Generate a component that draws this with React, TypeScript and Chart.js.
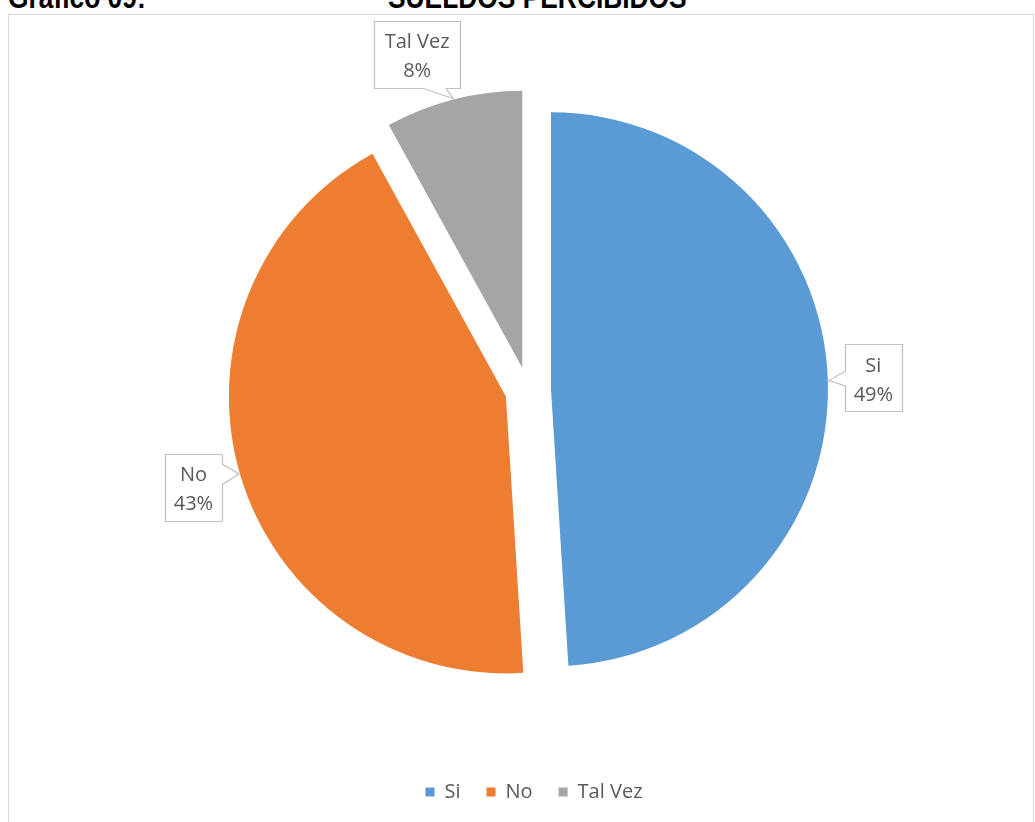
import React, { useEffect, useRef } from 'react';
import { Chart, registerables } from 'chart.js';

Chart.register(...registerables);

const categories = ['Si', 'No', 'Tal Vez'];
const values = [49, 43, 8];
const sliceColors = ['#5B9BD5', '#ED7D31', '#A5A5A5'];

const titleLeft = 'Gráfico 09:';
const titleCenter = 'SUELDOS PERCIBIDOS';

// Callout box layout per slice (offset of box centre from the arc tip, size, pointer base)
const calloutLayout = [
  { dx: 44.5, dy: -2.6, w: 57, h: 67, side: 'left', b1: -7, b2: 8 },
  { dx: -45.5, dy: 13.4, w: 57, h: 67, side: 'right', b1: -23, b2: -3 },
  { dx: -36, dy: -44, w: 86, h: 67, side: 'bottom', b1: 6, b2: 29 },
];

const EXPLODE = 23;
const TEXT = '#595959';
const FONT = '"Open Sans", "Liberation Sans", sans-serif';

const explodePlugin = {
  id: 'explode',
  afterDatasetsUpdate(chart: any) {
    const ca = chart.chartArea;
    const cx = (ca.left + ca.right) / 2;
    const cy = (ca.top + ca.bottom) / 2;
    const meta = chart.getDatasetMeta(0);
    meta.data.forEach((el: any) => {
      const mid = (el.startAngle + el.endAngle) / 2;
      el.x = cx + Math.cos(mid) * EXPLODE;
      el.y = cy + Math.sin(mid) * EXPLODE;
    });
  },
};

const legendShiftPlugin = {
  id: 'legendShift',
  afterLayout(chart: any) {
    if (chart.legend) {
      chart.legend.left += 6;
      chart.legend.right += 6;
    }
  },
};

function drawCallout(ctx: CanvasRenderingContext2D, cx: number, cy: number, w: number, h: number,
  side: string, b1: number, b2: number, tx: number, ty: number) {
  const x0 = Math.round(cx - w / 2) + 0.5;
  const y0 = Math.round(cy - h / 2) + 0.5;
  const x1 = x0 + w;
  const y1 = y0 + h;
  ctx.beginPath();
  ctx.moveTo(x0, y0);
  ctx.lineTo(x1, y0);
  if (side === 'right') {
    ctx.lineTo(x1, cy + b1);
    ctx.lineTo(tx, ty);
    ctx.lineTo(x1, cy + b2);
  }
  ctx.lineTo(x1, y1);
  if (side === 'bottom') {
    ctx.lineTo(cx + b2, y1);
    ctx.lineTo(tx, ty);
    ctx.lineTo(cx + b1, y1);
  }
  ctx.lineTo(x0, y1);
  if (side === 'left') {
    ctx.lineTo(x0, cy + b2);
    ctx.lineTo(tx, ty);
    ctx.lineTo(x0, cy + b1);
  }
  ctx.closePath();
  ctx.fillStyle = '#ffffff';
  ctx.fill();
  ctx.strokeStyle = '#BFBFBF';
  ctx.lineWidth = 1.2;
  ctx.stroke();
}

const calloutPlugin = {
  id: 'callouts',
  afterDatasetsDraw(chart: any) {
    const ctx = chart.ctx as CanvasRenderingContext2D;
    const meta = chart.getDatasetMeta(0);
    const data = chart.data.datasets[0].data as number[];
    const total = data.reduce((a, b) => a + b, 0);
    ctx.save();
    meta.data.forEach((el: any, i: number) => {
      const lay = calloutLayout[i];
      const mid = (el.startAngle + el.endAngle) / 2;
      const R = el.outerRadius + 1;
      const tx = el.x + Math.cos(mid) * R;
      const ty = el.y + Math.sin(mid) * R;
      const bx = tx + lay.dx;
      const by = ty + lay.dy;
      drawCallout(ctx, bx, by, lay.w, lay.h, lay.side, lay.b1, lay.b2, tx, ty);
      ctx.fillStyle = TEXT;
      ctx.font = '20px ' + FONT;
      ctx.textAlign = 'center';
      ctx.textBaseline = 'alphabetic';
      const pct = Math.round((data[i] / total) * 100) + '%';
      ctx.fillText(chart.data.labels[i], bx, by - 6);
      ctx.fillText(pct, bx, by + 23);
    });
    ctx.restore();
  },
};

export default function App() {
  const canvasRef = useRef<HTMLCanvasElement | null>(null);

  useEffect(() => {
    const canvas = canvasRef.current;
    if (!canvas) return;
    const chart = new Chart(canvas, {
      type: 'pie',
      data: {
        labels: categories,
        datasets: [
          {
            data: values,
            backgroundColor: sliceColors,
            borderWidth: 0,
            radius: 277,
            clip: false as any,
          } as any,
        ],
      },
      options: {
        responsive: false,
        animation: false,
        devicePixelRatio: 1,
        events: [],
        layout: { padding: { top: 24, bottom: 10, left: 21, right: 0 } },
        plugins: {
          legend: {
            position: 'bottom',
            labels: {
              boxWidth: 9,
              boxHeight: 9,
              padding: 26,
              color: TEXT,
              font: { family: FONT, size: 20 },
            },
          },
          tooltip: { enabled: false },
        },
      } as any,
      plugins: [explodePlugin, legendShiftPlugin, calloutPlugin],
    });
    return () => chart.destroy();
  }, []);

  const titleStyle: React.CSSProperties = {
    position: 'absolute',
    top: -18,
    fontFamily: '"Liberation Sans", Arial, sans-serif',
    fontWeight: 'bold',
    fontSize: 31,
    lineHeight: '32px',
    whiteSpace: 'nowrap',
    color: '#000',
    transform: 'scaleX(0.85)',
    transformOrigin: 'left top',
  };

  return (
    <div style={{ position: 'fixed', left: 0, top: 0, width: 1035, height: 822, overflow: 'hidden', background: '#fff' }}>
      <div style={{ ...titleStyle, left: 8 }}>{titleLeft}</div>
      <div style={{ ...titleStyle, left: 388 }}>{titleCenter}</div>
      <div
        style={{
          position: 'absolute',
          left: 8,
          top: 14,
          width: 1026,
          height: 900,
          border: '1px solid #D9D9D9',
          boxSizing: 'border-box',
        }}
      />
      <canvas
        ref={canvasRef}
        width={1035}
        height={822}
        style={{ position: 'absolute', left: 0, top: 0, width: 1035, height: 822, display: 'block' }}
      />
    </div>
  );
}
